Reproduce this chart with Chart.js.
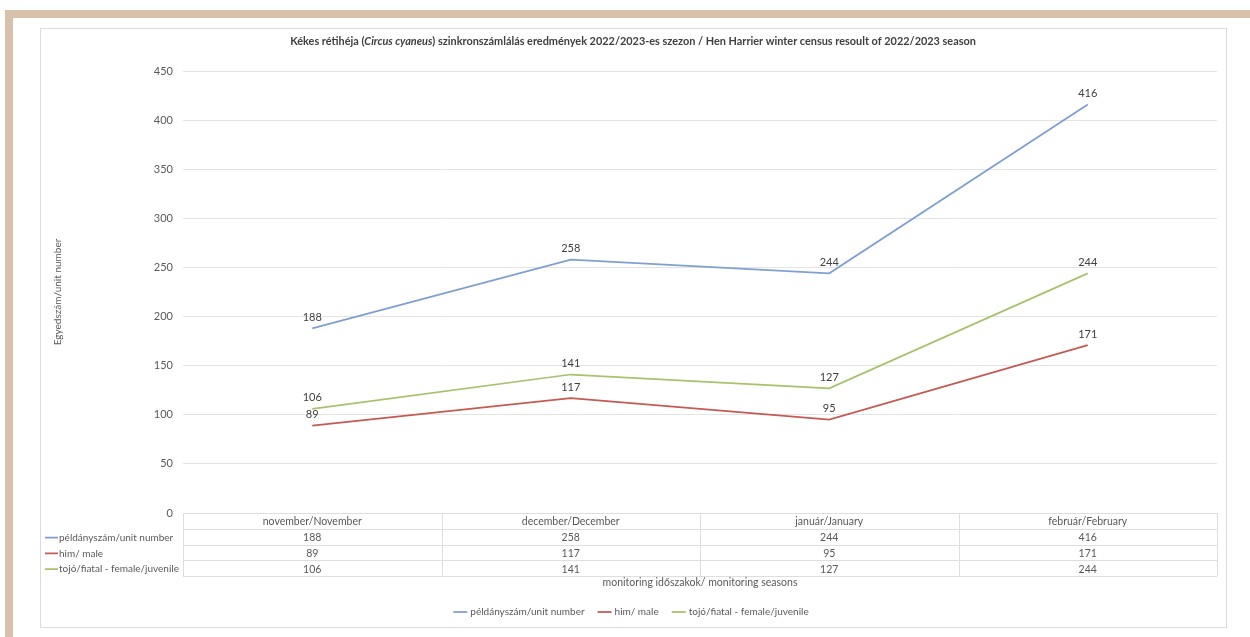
<!DOCTYPE html>
<html>
<head>
<meta charset="utf-8">
<script src="https://cdn.jsdelivr.net/npm/chart.js@4/dist/chart.umd.min.js"></script>
<style>
  body { margin: 0; background: #fff; }
  canvas { display: block; }
</style>
</head>
<body>
<canvas id="harrierChart" width="1250" height="637"></canvas>
<script>
let months = [
    `november/November`,
    `december/December`,
    `január/January`,
    `február/February`
]

let seriesNames = [
    `példányszám/unit number`,
    `him/ male`,
    `tojó/fiatal - female/juvenile`
]

let unitNumber = [188, 258, 244, 416]
let male = [89, 117, 95, 171]
let femaleJuvenile = [106, 141, 127, 244]

let yTicks = [0, 50, 100, 150, 200, 250, 300, 350, 400, 450]

let colors = [`#7f9fd3`, `#c55a52`, `#a7c26a`]
let fontName = `Lato, "Open Sans", sans-serif`

// frame, title, labels, data table and legend drawn around the chart area
const framePlugin = {
    id: `frame`,
    beforeDraw(chart) {
        const c = chart.ctx
        c.save()
        c.fillStyle = `#fff`
        c.fillRect(0, 0, chart.width, chart.height)
        c.fillStyle = `#d9c0aa`
        c.fillRect(5, 10, chart.width - 5, 8)
        c.fillRect(5, 10, 8, chart.height - 10)
        c.strokeStyle = `#dcdcdc`
        c.lineWidth = 1
        c.strokeRect(40.5, 28.5, 1186, 599)
        c.restore()
    },
    afterDatasetsDraw(chart) {
        const c = chart.ctx
        c.save()
        c.font = `11px ${fontName}`
        c.fillStyle = `#404040`
        c.textAlign = `center`
        c.textBaseline = `middle`
        chart.data.datasets.forEach((ds, i) => {
            chart.getDatasetMeta(i).data.forEach((pt, j) => {
                c.fillText(ds.data[j], pt.x, pt.y - 11)
            })
        })
        c.restore()
    },
    afterDraw(chart) {
        const c = chart.ctx
        const area = chart.chartArea
        const xs = chart.scales.x
        c.save()

        // title
        const parts = [
            [`Kékes rétihéja (`, `bold`],
            [`Circus cyaneus`, `italic bold`],
            [`) szinkronszámlálás eredmények 2022/2023-es szezon / Hen Harrier winter census resoult of 2022/2023 season`, `bold`]
        ]
        let total = 0
        parts.forEach(p => {
            c.font = `${p[1]} 10.9px ${fontName}`
            total += c.measureText(p[0]).width
        })
        let tx = 633 - total / 2
        c.fillStyle = `#404040`
        c.textBaseline = `middle`
        c.textAlign = `left`
        parts.forEach(p => {
            c.font = `${p[1]} 10.9px ${fontName}`
            c.fillText(p[0], tx, 41)
            tx += c.measureText(p[0]).width
        })

        // data table
        const rowH = 15.75
        const top = area.bottom
        const colW = (area.right - area.left) / months.length
        c.strokeStyle = `#dedede`
        c.lineWidth = 1
        for (let r = 0; r <= 4; r++) {
            const y = Math.round(top + r * rowH) + 0.5
            c.beginPath()
            c.moveTo(area.left, y)
            c.lineTo(area.right, y)
            c.stroke()
        }
        for (let k = 0; k <= months.length; k++) {
            const x = Math.round(area.left + k * colW) + 0.5
            c.beginPath()
            c.moveTo(x, top)
            c.lineTo(x, top + 4 * rowH)
            c.stroke()
        }
        c.font = `10.5px ${fontName}`
        c.fillStyle = `#595959`
        c.textAlign = `center`
        months.forEach((m, k) => {
            c.fillText(m, xs.getPixelForValue(k), top + rowH / 2 + 1)
        })
        chart.data.datasets.forEach((ds, i) => {
            const y = top + (i + 1.5) * rowH + 1
            c.strokeStyle = colors[i]
            c.lineWidth = 1.75
            c.beginPath()
            c.moveTo(45, y)
            c.lineTo(58, y)
            c.stroke()
            c.textAlign = `left`
            c.font = `10px ${fontName}`
            c.fillText(ds.label, 59, y)
            c.textAlign = `center`
            c.font = `10.5px ${fontName}`
            ds.data.forEach((v, k) => {
                c.fillText(v, xs.getPixelForValue(k), y)
            })
        })

        // category axis title
        c.font = `10.5px ${fontName}`
        c.fillText(`monitoring időszakok/ monitoring seasons`, (area.left + area.right) / 2, 583)

        // legend
        c.font = `10px ${fontName}`
        const gap = 13
        const keyW = 14
        let widths = seriesNames.map(n => keyW + 3 + c.measureText(n).width)
        let lw = widths.reduce((a, b) => a + b, 0) + gap * (seriesNames.length - 1)
        let lx = 631 - lw / 2
        const ly = 612
        seriesNames.forEach((n, i) => {
            c.strokeStyle = colors[i]
            c.lineWidth = 1.75
            c.beginPath()
            c.moveTo(lx, ly)
            c.lineTo(lx + keyW, ly)
            c.stroke()
            c.textAlign = `left`
            c.fillText(n, lx + keyW + 3, ly)
            lx += widths[i] + gap
        })
        c.restore()
    }
}

function harrierChart() {
    const ctx = document.getElementById(`harrierChart`)

    new Chart(ctx, {
        type: `line`,
        data: {
            labels: months,
            datasets: [unitNumber, male, femaleJuvenile].map((d, i) => ({
                label: seriesNames[i],
                data: d,
                borderColor: colors[i],
                backgroundColor: colors[i],
                borderWidth: 1.75,
                pointRadius: 0,
                tension: 0
            }))
        },
        options: {
            responsive: false,
            animation: false,
            layout: {
                padding: { left: 40, right: 33, top: 71, bottom: 124 }
            },
            plugins: {
                legend: { display: false },
                title: { display: false },
                tooltip: { enabled: false }
            },
            scales: {
                x: {
                    type: `category`,
                    offset: true,
                    display: false
                },
                y: {
                    min: yTicks[0],
                    max: yTicks[yTicks.length - 1],
                    afterFit(scale) {
                        scale.width = 143
                    },
                    afterBuildTicks(scale) {
                        scale.ticks = yTicks.map(v => ({ value: v }))
                    },
                    border: { display: false },
                    grid: {
                        color: `#e4e4e4`,
                        drawTicks: false
                    },
                    ticks: {
                        padding: 10,
                        color: `#595959`,
                        font: { family: fontName, size: 11 }
                    },
                    title: {
                        display: true,
                        text: `Egyedszám/unit number`,
                        color: `#595959`,
                        font: { family: fontName, size: 10 },
                        padding: { top: 12, bottom: 0 }
                    }
                }
            }
        },
        plugins: [framePlugin]
    })
}

harrierChart()
</script>
</body>
</html>
